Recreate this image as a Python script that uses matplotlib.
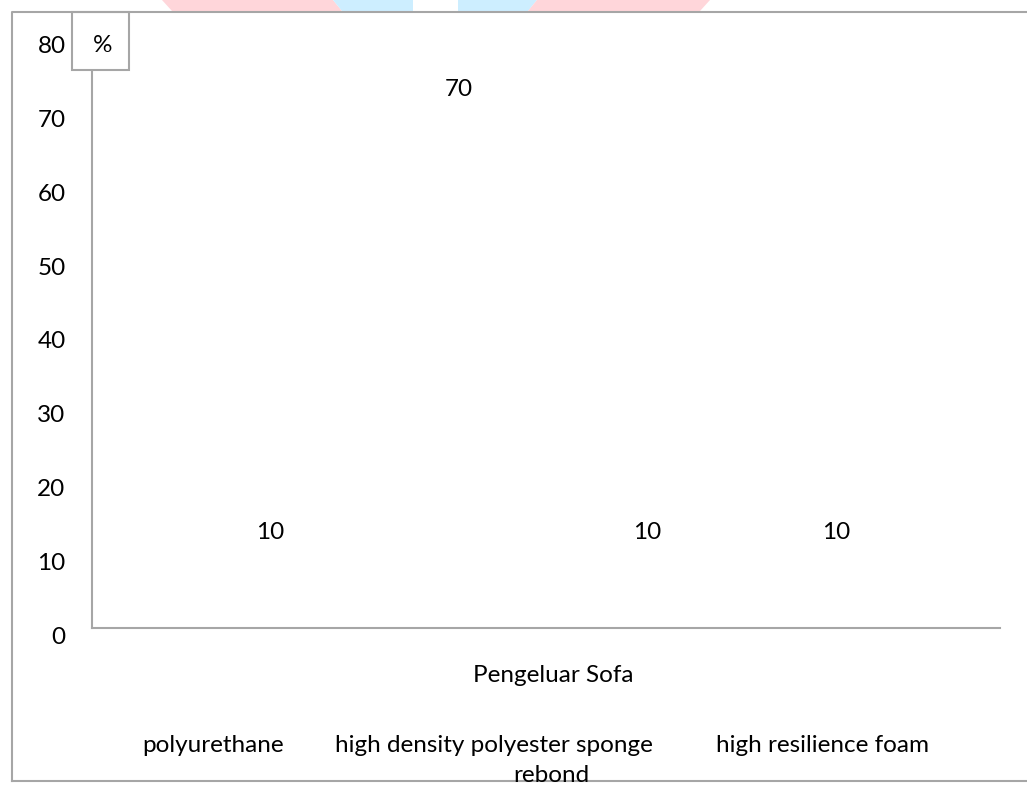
import numpy as np
import matplotlib
matplotlib.use("Agg")
import matplotlib.pyplot as plt
import matplotlib.transforms as mtransforms
from matplotlib.patches import Rectangle, Polygon

plt.rcParams['font.family'] = ['Lato', 'DejaVu Sans']

# data
category = "Pengeluar Sofa"
series = ["polyurethane", "high density polyester sponge", "rebond", "high resilience foam"]
values = [10, 70, 10, 10]
yticks = [0, 10, 20, 30, 40, 50, 60, 70, 80]
legend_rows = [["polyurethane", "high density polyester sponge", "high resilience foam"], ["rebond"]]

W, H = 1027, 787
fig = plt.figure(figsize=(W / 100, H / 100), dpi=100)
fig.patch.set_facecolor("white")

# plot area in pixel coords
x0, x1, y_zero, y_top = 92, 1000, 628, 38
ax = fig.add_axes([x0 / W, 1 - y_zero / H, (x1 - x0) / W, (y_zero - y_top) / H])

gray = "#a6a6a6"
fs = 17.5
bw = 0.208
xs = (np.arange(len(series)) - (len(series) - 1) / 2) * bw
# bars have no fill in the original, only the value labels show
ax.bar(xs, values, width=bw * 0.9, color="none", edgecolor="none")
for x, v in zip(xs, values):
    ax.annotate(str(v), (x, v), xytext=(0, 16), textcoords="offset points",
                ha="center", va="center", fontsize=fs, color="black")

ax.set_xlim(-0.5077, 0.4923)
ax.set_ylim(0, 80)
ax.set_yticks(yticks)
ax.set_yticklabels([str(t) for t in yticks], fontsize=fs)
ax.set_xticks([0])
ax.set_xticklabels([category], fontsize=fs)
ax.tick_params(axis="y", length=0, pad=19)
ax.tick_params(axis="x", length=0, pad=27)
offset = mtransforms.ScaledTranslation(0, -7 / 100, fig.dpi_scale_trans)
for lbl in ax.get_yticklabels():
    lbl.set_transform(lbl.get_transform() + offset)
for s in ["top", "right"]:
    ax.spines[s].set_visible(False)
for s in ["left", "bottom"]:
    ax.spines[s].set_color(gray)
    ax.spines[s].set_linewidth(1.5)

# overlay in pixel coords: border, % box, legend, watermark strip
ov = fig.add_axes([0, 0, 1, 1], zorder=5)
ov.set_xlim(0, W)
ov.set_ylim(H, 0)
ov.axis("off")
ov.patch.set_alpha(0)

ov.plot([12, 12, W + 5], [781, 12, 12], color=gray, lw=1.5)
ov.plot([12, W + 5], [781, 781], color=gray, lw=1.5, zorder=1)
ov.add_patch(Rectangle((72, 12), 57, 58, facecolor="white", edgecolor=gray, lw=1.5))
ov.text(103, 46, "%", ha="center", va="center", fontsize=fs)

leg_x = [[213, 494, 822], [551]]
leg_y = [745, 775]
for row, xr, yy in zip(legend_rows, leg_x, leg_y):
    for name, xx in zip(row, xr):
        ov.text(xx, yy, name, ha="center", va="center", fontsize=fs, zorder=3)

pink, blue = "#ffd6da", "#cdeeff"
ov.add_patch(Polygon([(162, 0), (333, 0), (342, 11), (172, 11)], color=pink, lw=0))
ov.add_patch(Polygon([(333, 0), (413, 0), (413, 11), (342, 11)], color=blue, lw=0))
ov.add_patch(Polygon([(458, 0), (537, 0), (528, 11), (458, 11)], color=blue, lw=0))
ov.add_patch(Polygon([(537, 0), (710, 0), (700, 11), (528, 11)], color=pink, lw=0))

fig.savefig("out.png", dpi=100)
